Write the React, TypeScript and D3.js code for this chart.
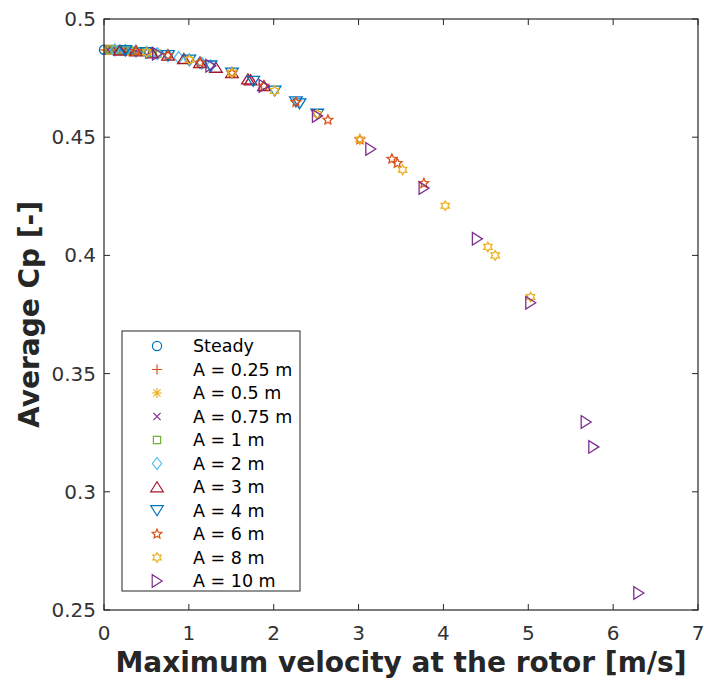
import React from "react";
import * as d3 from "d3";

// ---------- data ----------
const seriesNames = [
  "Steady", "A = 0.25 m", "A = 0.5 m", "A = 0.75 m", "A = 1 m", "A = 2 m",
  "A = 3 m", "A = 4 m", "A = 6 m", "A = 8 m", "A = 10 m",
];
const seriesColors = [
  "#0072BD", "#D95319", "#EDB120", "#7E2F8E", "#77AC30", "#4DBEEE",
  "#A2142F", "#0072BD", "#D95319", "#EDB120", "#7E2F8E",
];
const seriesMarkers = ["o", "+", "*", "x", "s", "d", "^", "v", "p", "h", ">"];

const velSteady = [0.0];
const cpSteady = [0.487];

const velA025 = [0.016, 0.031, 0.047, 0.063, 0.079, 0.094, 0.11, 0.126, 0.141, 0.157, 0.144];
const cpA025 = [0.487, 0.487, 0.487, 0.487, 0.487, 0.487, 0.487, 0.4869, 0.4869, 0.4869, 0.4869];

const velA05 = [0.031, 0.063, 0.094, 0.126, 0.157, 0.188, 0.22, 0.251, 0.283, 0.314, 0.288];
const cpA05 = [0.487, 0.487, 0.487, 0.4869, 0.4869, 0.4868, 0.4868, 0.4867, 0.4866, 0.4866, 0.4866];

const velA075 = [0.047, 0.094, 0.141, 0.188, 0.236, 0.283, 0.33, 0.377, 0.424, 0.471, 0.432];
const cpA075 = [0.487, 0.487, 0.4869, 0.4868, 0.4868, 0.4867, 0.4865, 0.4864, 0.4862, 0.486, 0.4862];

const velA1 = [0.063, 0.126, 0.188, 0.251, 0.314, 0.377, 0.44, 0.503, 0.565, 0.628, 0.576];
const cpA1 = [0.487, 0.4869, 0.4868, 0.4867, 0.4866, 0.4864, 0.4862, 0.4859, 0.4856, 0.4853, 0.4856];

const velA2 = [0.126, 0.251, 0.377, 0.503, 0.628, 0.754, 0.88, 1.005, 1.131, 1.257, 1.152];
const cpA2 = [0.4869, 0.4867, 0.4864, 0.4859, 0.4853, 0.4846, 0.4837, 0.4827, 0.4815, 0.4802, 0.4813];

const velA3 = [0.188, 0.377, 0.565, 0.754, 0.942, 1.131, 1.319, 1.508, 1.696, 1.885, 1.728];
const cpA3 = [0.4868, 0.4864, 0.4856, 0.4846, 0.4832, 0.4815, 0.4795, 0.4772, 0.4746, 0.4717, 0.4742];

const velA4 = [0.251, 0.503, 0.754, 1.005, 1.257, 1.508, 1.759, 2.011, 2.262, 2.513, 2.304];
const cpA4 = [0.4867, 0.4859, 0.4846, 0.4827, 0.4802, 0.4772, 0.4737, 0.4696, 0.465, 0.4598, 0.4642];

const velA6 = [0.377, 0.754, 1.131, 1.508, 1.885, 2.262, 2.639, 3.016, 3.393, 3.77, 3.456];
const cpA6 = [0.4864, 0.4846, 0.4815, 0.4772, 0.4717, 0.4648, 0.4573, 0.449, 0.4408, 0.4305, 0.439];

const velA8 = [0.503, 1.005, 1.508, 2.011, 2.513, 3.016, 3.519, 4.021, 4.524, 5.027, 4.61];
const cpA8 = [0.4859, 0.4827, 0.4772, 0.4696, 0.4598, 0.449, 0.4362, 0.421, 0.4036, 0.3824, 0.4];

const velA10 = [0.628, 1.257, 1.885, 2.513, 3.142, 3.77, 4.398, 5.027, 5.68, 6.3, 5.77];
const cpA10 = [0.4853, 0.4802, 0.4717, 0.459, 0.445, 0.4285, 0.407, 0.38, 0.3295, 0.2572, 0.319];

const seriesVel = [velSteady, velA025, velA05, velA075, velA1, velA2, velA3, velA4, velA6, velA8, velA10];
const seriesCp = [cpSteady, cpA025, cpA05, cpA075, cpA1, cpA2, cpA3, cpA4, cpA6, cpA8, cpA10];

const xTicks = [0, 1, 2, 3, 4, 5, 6, 7];
const xTickLabels = ["0", "1", "2", "3", "4", "5", "6", "7"];
const yTicks = [0.25, 0.3, 0.35, 0.4, 0.45, 0.5];
const yTickLabels = ["0.25", "0.3", "0.35", "0.4", "0.45", "0.5"];

const xLabel = "Maximum velocity at the rotor [m/s]";
const yLabel = "Average Cp [-]";

// ---------- layout ----------
const W = 704;
const H = 680;
const L = 104, R = 698, T = 19, B = 610;
const axisColor = "#262626";
const tickColor = "#333333";
const font = "'DejaVu Sans', sans-serif";

function starPath(n: number, ro: number, ri: number): string {
  const pts: [number, number][] = [];
  for (let i = 0; i < 2 * n; i++) {
    const r = i % 2 === 0 ? ro : ri;
    const a = -Math.PI / 2 + (i * Math.PI) / n;
    pts.push([r * Math.cos(a), r * Math.sin(a)]);
  }
  return d3.line()(pts) + "Z";
}

function markerPath(m: string): string {
  switch (m) {
    case "o": {
      const p = d3.path();
      p.arc(0, 0, 4.6, 0, 2 * Math.PI);
      p.closePath();
      return p.toString();
    }
    case "+":
      return "M-5,0H5M0,-5V5";
    case "*":
      return "M-5,0H5M0,-5V5M-3.6,-3.6L3.6,3.6M-3.6,3.6L3.6,-3.6";
    case "x":
      return "M-3.6,-3.6L3.6,3.6M-3.6,3.6L3.6,-3.6";
    case "s":
      return "M-3.6,-3.6H3.6V3.6H-3.6Z";
    case "d":
      return "M0,-6L4.6,0L0,6L-4.6,0Z";
    case "^":
      return "M0,-5.2L6.3,4.8L-6.3,4.8Z";
    case "v":
      return "M0,5.2L6.3,-4.8L-6.3,-4.8Z";
    case ">":
      return "M5.2,0L-4.8,-6.3L-4.8,6.3Z";
    case "p":
      return starPath(5, 5, 2.3);
    case "h":
      return starPath(6, 4.8, 2.8);
    default:
      return "";
  }
}

export default function App() {
  const x = d3.scaleLinear().domain([0, 7]).range([L, R]);
  const y = d3.scaleLinear().domain([0.25, 0.5]).range([B, T]);

  const legendX = 122, legendY = 331, legendW = 178, legendH = 260;
  const rowH = 23.5;

  return (
    <svg
      width={W}
      height={H}
      style={{ position: "absolute", left: 0, top: 0, background: "#fff" }}
      fontFamily={font}
    >
      <rect x={0} y={0} width={W} height={H} fill="#fff" />
      {/* markers */}
      <g>
        {seriesVel.map((vs, si) =>
          vs.map((v, i) => (
            <path
              key={`m${si}-${i}`}
              d={markerPath(seriesMarkers[si])}
              transform={`translate(${x(v)},${y(seriesCp[si][i])})`}
              fill="none"
              stroke={seriesColors[si]}
              strokeWidth={1.3}
            />
          ))
        )}
      </g>
      {/* frame */}
      <rect x={L} y={T} width={R - L} height={B - T} fill="none" stroke={axisColor} strokeWidth={1.2} />
      {/* x ticks */}
      {xTicks.map((t, i) => (
        <g key={`xt${i}`}>
          <line x1={x(t)} x2={x(t)} y1={B} y2={B - 6} stroke={axisColor} strokeWidth={1} />
          <line x1={x(t)} x2={x(t)} y1={T} y2={T + 6} stroke={axisColor} strokeWidth={1} />
          <text x={x(t)} y={B + 30} textAnchor="middle" fontSize={20} fill={tickColor}>
            {xTickLabels[i]}
          </text>
        </g>
      ))}
      {/* y ticks */}
      {yTicks.map((t, i) => (
        <g key={`yt${i}`}>
          <line x1={L} x2={L + 6} y1={y(t)} y2={y(t)} stroke={axisColor} strokeWidth={1} />
          <line x1={R} x2={R - 6} y1={y(t)} y2={y(t)} stroke={axisColor} strokeWidth={1} />
          <text x={L - 8} y={y(t) + 7} textAnchor="end" fontSize={20} fill={tickColor}>
            {yTickLabels[i]}
          </text>
        </g>
      ))}
      {/* axis labels */}
      <text
        x={(L + R) / 2}
        y={672}
        textAnchor="middle"
        fontSize={28}
        fontWeight="bold"
        fill={axisColor}
      >
        {xLabel}
      </text>
      <text
        transform={`translate(39,${(T + B) / 2}) rotate(-90)`}
        textAnchor="middle"
        fontSize={28}
        fontWeight="bold"
        fill={axisColor}
      >
        {yLabel}
      </text>
      {/* legend */}
      <g>
        <rect x={legendX} y={legendY} width={legendW} height={legendH} fill="#fff" stroke={axisColor} strokeWidth={1} />
        {seriesNames.map((name, i) => {
          const cy = legendY + 15 + i * rowH;
          return (
            <g key={`lg${i}`}>
              <path
                d={markerPath(seriesMarkers[i])}
                transform={`translate(157,${cy})`}
                fill="none"
                stroke={seriesColors[i]}
                strokeWidth={1.2}
              />
              <text x={193} y={cy + 6} fontSize={17.5} fill="#000">
                {name}
              </text>
            </g>
          );
        })}
      </g>
    </svg>
  );
}
